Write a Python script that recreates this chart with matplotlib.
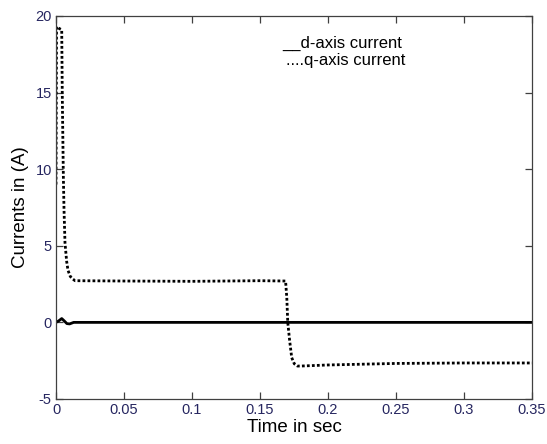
import numpy as np
import matplotlib.pyplot as plt

# q-axis current (dotted)
t_q = [0.0, 0.0004, 0.002, 0.0042, 0.0046, 0.0054, 0.0059, 0.0066, 0.0078, 0.0088,
       0.0105, 0.012, 0.014, 0.05, 0.1, 0.15, 0.1688, 0.1697, 0.1704, 0.1718,
       0.1733, 0.1752, 0.1775, 0.18, 0.2, 0.25, 0.3, 0.35]
i_q = [9.0, 19.3, 19.2, 19.1, 14.9, 9.5, 7.3, 5.2, 4.0, 3.4,
       3.0, 2.85, 2.72, 2.7, 2.68, 2.72, 2.7, 1.6, 0.0, -1.2,
       -2.3, -2.7, -2.85, -2.85, -2.78, -2.68, -2.65, -2.65]

# d-axis current (solid)
t_d = [0.0, 0.002, 0.0042, 0.006, 0.008, 0.010, 0.013, 0.35]
i_d = [0.0, 0.1, 0.25, 0.1, -0.08, -0.1, 0.0, 0.0]

xticks = [0, 0.05, 0.1, 0.15, 0.2, 0.25, 0.3, 0.35]
xtick_labels = ["0", "0.05", "0.1", "0.15", "0.2", "0.25", "0.3", "0.35"]
yticks = [-5, 0, 5, 10, 15, 20]

plt.rcParams['font.family'] = ['Liberation Sans', 'DejaVu Sans']
plt.rcParams['axes.unicode_minus'] = False

fig = plt.figure(figsize=(5.47, 4.44), dpi=100)
ax = fig.add_axes([0.1024, 0.1014, 0.8702, 0.8626])

ax.plot(t_d, i_d, color="black", linewidth=2.0, solid_capstyle="butt")
ax.plot(t_q, i_q, color="black", linewidth=2.0, linestyle=(0, (1, 0.8)))

ax.set_xlim(0, 0.35)
ax.set_ylim(-5, 20)
ax.set_xticks(xticks)
ax.set_xticklabels(xtick_labels)
ax.set_yticks(yticks)

tick_col = "#262660"
ax.tick_params(direction="in", length=5, width=0.9, top=True, right=True,
               labelsize=10.5, labelcolor=tick_col, colors="#404040", pad=3)
for s in ax.spines.values():
    s.set_color("#404040")
    s.set_linewidth(0.9)

ax.set_xlabel("Time in sec", fontsize=13.5, labelpad=1)
ax.set_ylabel("Currents in (A)", fontsize=13.5, labelpad=5)

# legend written as plain text like in the original
ax.text(0.1665, 18.2, "__d-axis current", fontsize=12, va="center", ha="left")
ax.text(0.1690, 17.1, "....q-axis current", fontsize=12, va="center", ha="left")

fig.savefig("out.png", dpi=100)
